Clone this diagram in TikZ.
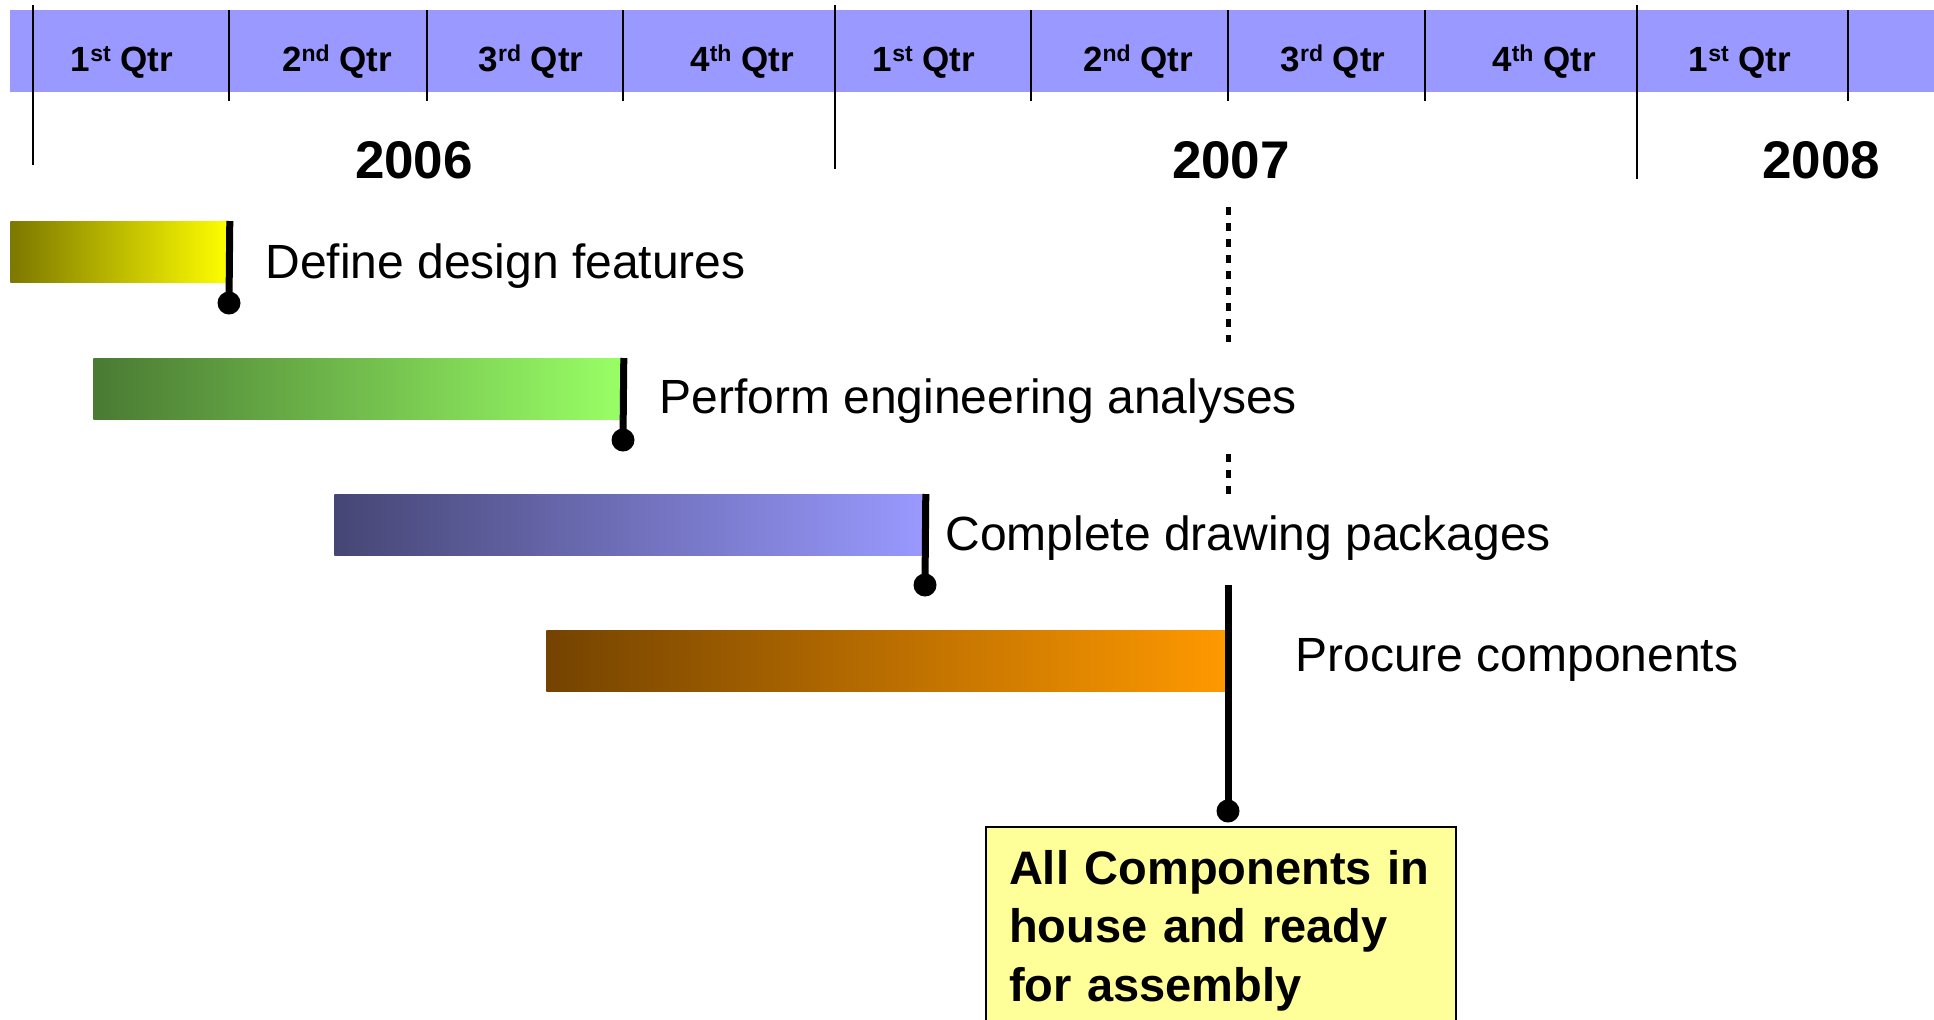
\documentclass[tikz,border=0pt]{standalone}
\usepackage{fontspec}
\setmainfont{Liberation Sans}

\definecolor{bandblue}{HTML}{9999FF}
\definecolor{olivedark}{HTML}{7D7800}
\definecolor{baryellow}{HTML}{FFFF00}
\definecolor{greendark}{HTML}{4A7A33}
\definecolor{greenlight}{HTML}{99FF66}
\definecolor{bluedark}{HTML}{464675}
\definecolor{bluelight}{HTML}{9999FF}
\definecolor{orangedark}{HTML}{744300}
\definecolor{barorange}{HTML}{FF9900}
\definecolor{notefill}{HTML}{FFFF99}

\newcommand{\qsup}[1]{\raisebox{0.27em}{\fontsize{11.5}{12}\selectfont #1}}

\begin{document}
\begin{tikzpicture}[x=0.5pt,y=-0.5pt,
        qtr/.style={font=\bfseries\fontsize{17.5}{21}\selectfont, anchor=base, inner sep=0pt},
        year/.style={font=\bfseries\fontsize{26.5}{32}\selectfont, anchor=base, inner sep=0pt},
        task/.style={font=\fontsize{24}{29}\selectfont, anchor=base west, inner sep=0pt},
        bar/.style={anchor=north west, minimum height=30.5pt, inner sep=0pt},
        dot/.style={circle, fill=black, minimum size=11.5pt, inner sep=0pt},
        stem/.style={line width=3.5pt},
        gridline/.style={line width=0.8pt},
        dashline/.style={line width=2.5pt, dash pattern=on 4pt off 4pt},
        note/.style={draw=black, line width=1pt, fill=notefill, anchor=north west,
            text width=212pt, align=left, inner xsep=11.5pt, inner ysep=11.5pt,
            font=\bfseries\fontsize{23.5}{29.25}\selectfont}]
    \useasboundingbox (0,0) rectangle (1934,1019);
    \clip (0,0) rectangle (1934,1019);

    %Header
    \fill[bandblue] (10,10) rectangle (1934,92);
    \draw[gridline] (33,5) -- (33,165);
    \draw[gridline] (229,10) -- (229,101);
    \draw[gridline] (427,10) -- (427,101);
    \draw[gridline] (623,10) -- (623,101);
    \draw[gridline] (835,5) -- (835,169);
    \draw[gridline] (1031,10) -- (1031,101);
    \draw[gridline] (1228,10) -- (1228,101);
    \draw[gridline] (1425,10) -- (1425,101);
    \draw[gridline] (1637,5) -- (1637,179);
    \draw[gridline] (1848,10) -- (1848,101);

    \node[qtr] (q1a) at (122,71) {1\qsup{st} Qtr};
    \node[qtr] (q2a) at (337,71) {2\qsup{nd} Qtr};
    \node[qtr] (q3a) at (531,71) {3\qsup{rd} Qtr};
    \node[qtr] (q4a) at (742,71) {4\qsup{th} Qtr};
    \node[qtr] (q1b) at (924,71) {1\qsup{st} Qtr};
    \node[qtr] (q2b) at (1138,71) {2\qsup{nd} Qtr};
    \node[qtr] (q3b) at (1333,71) {3\qsup{rd} Qtr};
    \node[qtr] (q4b) at (1544,71) {4\qsup{th} Qtr};
    \node[qtr] (q1c) at (1740,71) {1\qsup{st} Qtr};

    \node[year] (y2006) at (414,178) {2006};
    \node[year] (y2007) at (1231,178) {2007};
    \node[year] (y2008) at (1821,178) {2008};

    %Bars
    \node[bar, left color=olivedark, right color=baryellow, minimum width=109.5pt] (definebar) at (10,221) {};
    \node[bar, left color=greendark, right color=greenlight, minimum width=265pt] (performbar) at (93,358) {};
    \node[bar, left color=bluedark, right color=bluelight, minimum width=295.5pt] (completebar) at (334,494) {};
    \node[bar, left color=orangedark, right color=barorange, minimum width=341pt] (procurebar) at (546,630) {};

    \node[task] (definetext) at (265,278) {Define design features};
    \node[task] (performtext) at (659,413) {Perform engineering analyses};
    \node[task] (completetext) at (945,550) {Complete drawing packages};
    \node[task] (procuretext) at (1295,671) {Procure components};

    %Milestones
    \node[dot] (definedot) at (229,303) {};
    \node[dot] (performdot) at (623,440) {};
    \node[dot] (completedot) at (925,585) {};
    \node[dot] (finaldot) at (1228,811) {};
    \draw[stem] (definebar.north east) -- (definedot.center);
    \draw[stem] (performbar.north east) -- (performdot.center);
    \draw[stem] (completebar.north east) -- (completedot.center);

    \coordinate (marktop) at (1228,207);
    \coordinate (markgap) at (1228,342);
    \coordinate (markresume) at (1228,454);
    \coordinate (markend) at (1228,494);
    \coordinate (solidtop) at (1228,585);
    \draw[dashline] (marktop) -- (markgap);
    \draw[dashline] (markresume) -- (markend);
    \draw[stem] (solidtop) -- (finaldot.center);

    \node[note] (assembly) at (985,826) {All Components in\\house and ready\\for assembly};
\end{tikzpicture}
\end{document}
